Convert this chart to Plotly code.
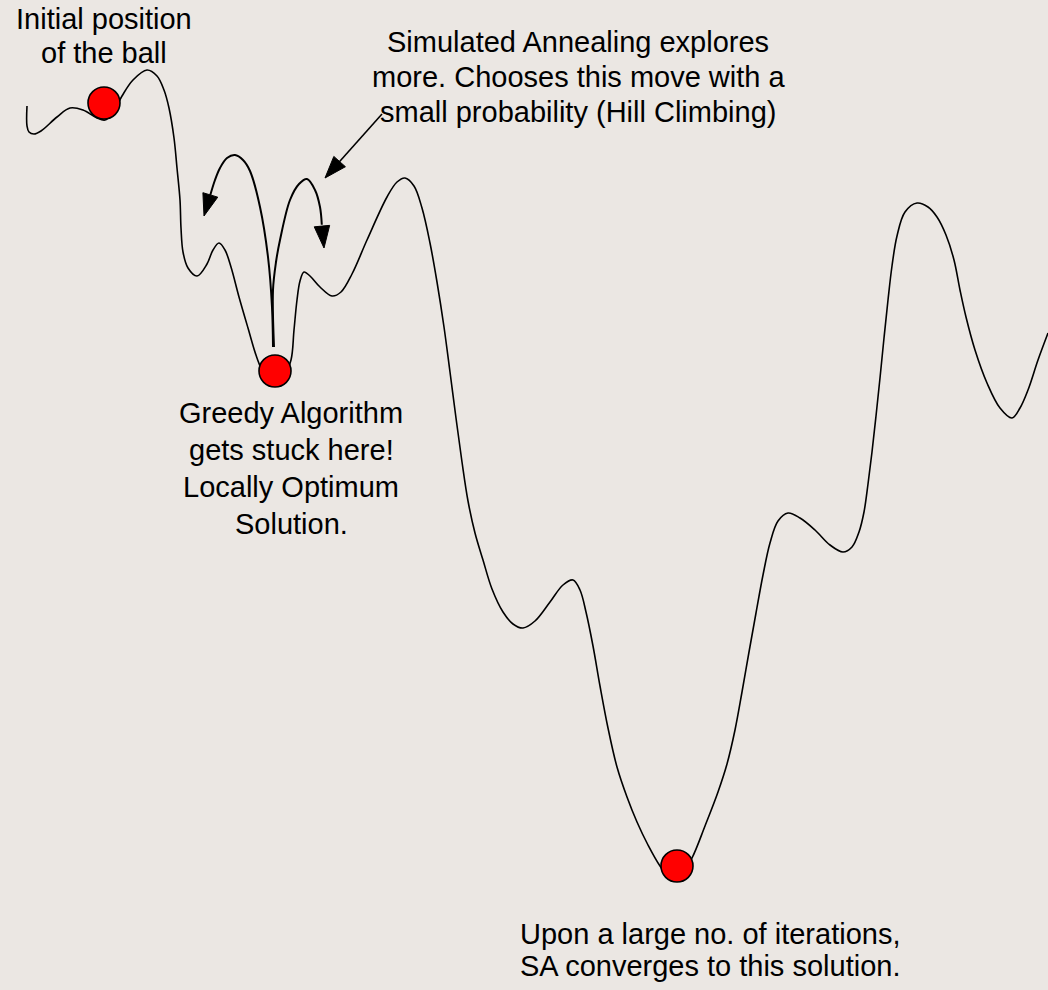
import math
import plotly.graph_objects as go

BG = "#EBE7E3"
W, H = 1048, 990

# Landscape (cost surface), pixel space
land_x = [27, 27, 29, 34, 41, 57, 70, 83, 97, 105, 112, 122, 133, 147, 157, 164, 169, 174, 177, 180, 181, 183,
          188, 197, 207, 213, 219, 225, 231, 239, 248, 257, 266, 275, 284, 291, 294, 297, 300, 304, 310, 320,
          332, 341, 352, 367, 387, 397, 405, 414, 422, 430, 437, 444, 450, 456, 462, 468, 475, 483, 492, 503,
          513, 523, 535, 550, 563, 573, 580, 586, 593, 600, 608, 617, 627, 637, 648, 660, 670, 680, 692, 705,
          718, 727, 735, 742, 749, 756, 763, 770, 778, 788, 800, 815, 830, 843, 852, 859, 864, 868, 872, 876,
          880, 884, 888, 892, 897, 905, 917, 928, 937, 946, 954, 960, 966, 975, 987, 1000, 1012, 1020, 1028,
          1038, 1048]
land_y = [106, 126, 132, 134, 131, 117, 108, 110, 118, 120, 114, 96, 80, 70, 76, 90, 108, 138, 168, 200, 228, 252,
          268, 276, 264, 250, 243, 250, 267, 297, 328, 358, 378, 384, 376, 360, 330, 300, 281, 272, 276, 287,
          296, 292, 274, 240, 197, 182, 178, 186, 208, 243, 282, 327, 372, 418, 462, 501, 533, 560, 589, 612,
          624, 628, 621, 602, 585, 580, 590, 612, 646, 686, 728, 767, 797, 822, 845, 866, 878, 877, 858, 826,
          792, 764, 730, 692, 652, 613, 575, 543, 521, 513, 518, 530, 545, 552, 547, 532, 512, 484, 452, 416,
          378, 338, 300, 266, 236, 212, 203, 207, 217, 235, 260, 290, 317, 350, 383, 408, 418, 408, 390,
          360, 333]

# Balls
ball_x = [104, 275, 677]
ball_y = [103, 371, 866]

# Curved arrows (SA exploration moves) from the local-minimum ball
arrowA_x = [273, 272, 268, 260, 250, 243, 235, 227, 220, 215, 210.3]
arrowA_y = [347, 307, 257, 207, 171, 160, 155, 158, 168, 180, 195]
arrowA_tip = (204, 216)

arrowB_x = [274, 273, 276, 280, 290, 299, 307, 315, 320, 321.8]
arrowB_y = [347, 290, 262, 240, 200, 184, 179, 190, 207, 224.7]
arrowB_tip = (324, 248)

# Straight arrow from the SA note
arrowC_start = (382, 114)
arrowC_tip = (325, 178)

HEAD_LEN, HEAD_W = 22, 15.5

# Text blocks: (lines, centre x, centre y of each line)
txt_initial = ["Initial position", "of the ball"]
txt_initial_x = 104
txt_initial_y = [19, 53]

txt_sa = ["Simulated Annealing explores", "more. Chooses this move with a", "small probability (Hill Climbing)"]
txt_sa_x = 578
txt_sa_y = [42, 77, 112]

txt_greedy = ["Greedy Algorithm", "gets stuck here!", "Locally Optimum", "Solution."]
txt_greedy_x = 291
txt_greedy_y = [413, 450, 487, 524]

txt_upon = ["Upon a large no. of iterations,", "SA converges to this solution."]
txt_upon_x = 710
txt_upon_y = [934, 966]

FONT = dict(family="Liberation Sans, Arial, sans-serif", size=29, color="#000000")


def head(tip, base_dir_from):
    tx, ty = tip
    bx, by = base_dir_from
    dx, dy = tx - bx, ty - by
    n = math.hypot(dx, dy)
    ux, uy = dx / n, dy / n
    cx, cy = tx - HEAD_LEN * ux, ty - HEAD_LEN * uy
    px, py = -uy, ux
    xs = [tx, cx + HEAD_W / 2 * px, cx - HEAD_W / 2 * px, tx]
    ys = [ty, cy + HEAD_W / 2 * py, cy - HEAD_W / 2 * py, ty]
    return xs, ys, (cx, cy)


fig = go.Figure()

fig.add_trace(go.Scatter(x=land_x, y=land_y, mode="lines",
                         line=dict(color="black", width=1.6, shape="spline", smoothing=1.0),
                         hoverinfo="skip"))

for ax_, ay_, tip in [(arrowA_x, arrowA_y, arrowA_tip), (arrowB_x, arrowB_y, arrowB_tip)]:
    fig.add_trace(go.Scatter(x=ax_, y=ay_, mode="lines",
                             line=dict(color="black", width=2, shape="spline", smoothing=1.0),
                             hoverinfo="skip"))
    hx, hy, _ = head(tip, (ax_[-1], ay_[-1]))
    fig.add_trace(go.Scatter(x=hx, y=hy, mode="lines", fill="toself", fillcolor="black",
                             line=dict(color="black", width=1), hoverinfo="skip"))

hx, hy, (cx, cy) = head(arrowC_tip, arrowC_start)
fig.add_trace(go.Scatter(x=[arrowC_start[0], cx], y=[arrowC_start[1], cy], mode="lines",
                         line=dict(color="black", width=1.6), hoverinfo="skip"))
fig.add_trace(go.Scatter(x=hx, y=hy, mode="lines", fill="toself", fillcolor="black",
                         line=dict(color="black", width=1), hoverinfo="skip"))

fig.add_trace(go.Scatter(x=ball_x, y=ball_y, mode="markers",
                         marker=dict(size=32, color="#FF0000", line=dict(color="black", width=1.6)),
                         hoverinfo="skip"))

annotations = []
for lines, x0, ys in [(txt_initial, txt_initial_x, txt_initial_y), (txt_sa, txt_sa_x, txt_sa_y),
                      (txt_greedy, txt_greedy_x, txt_greedy_y), (txt_upon, txt_upon_x, txt_upon_y)]:
    for t, yy in zip(lines, ys):
        annotations.append(dict(x=x0, y=yy, xref="x", yref="y", text=t, showarrow=False,
                                xanchor="center", yanchor="middle", font=FONT))

fig.update_layout(
    width=W, height=H,
    margin=dict(l=0, r=0, t=0, b=0),
    paper_bgcolor=BG, plot_bgcolor=BG,
    showlegend=False,
    xaxis=dict(range=[0, W], visible=False, fixedrange=True),
    yaxis=dict(range=[H, 0], visible=False, fixedrange=True),
    annotations=annotations,
)

fig.write_html("out.html", config={"displayModeBar": False},
               post_script="document.body.style.margin='0';document.body.style.background='%s';" % BG)
